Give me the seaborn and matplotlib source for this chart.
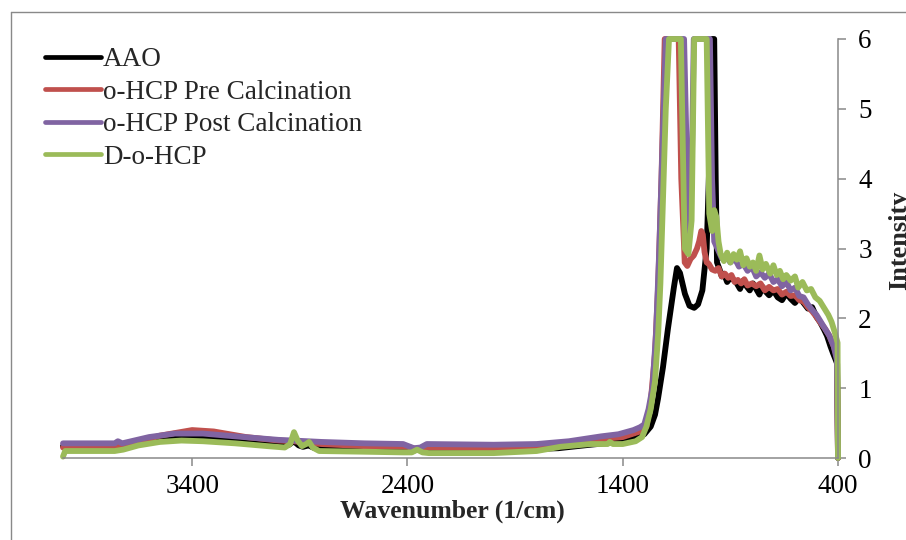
import numpy as np
import pandas as pd
import seaborn as sns
import matplotlib
matplotlib.use("Agg")
import matplotlib.pyplot as plt
from matplotlib.lines import Line2D

# ---- spectra: wavenumber (1/cm) and intensity, highest wavenumber first ----
aao_wn = [4000, 3760, 3700, 3600, 3480, 3400, 3300, 3150, 3000, 2950, 2928, 2905,
          2885, 2860, 2830, 2700, 2500, 2400, 2365, 2345, 2320, 2100, 1900, 1700,
          1550, 1450, 1400, 1340, 1300, 1270, 1250, 1236, 1213, 1190, 1162, 1148,
          1134, 1111, 1090, 1068, 1050, 1030, 1010, 995, 985, 975, 968, 962,
          950, 940, 930, 915, 900, 885, 870, 855, 840, 825, 810, 795, 780, 765,
          750, 735, 720, 700, 680, 660, 640, 620, 600, 580, 560, 540, 520, 500,
          484, 465, 451, 435, 423, 410, 404, 400]
aao_int = [0.17, 0.17, 0.20, 0.26, 0.30, 0.30, 0.28, 0.25, 0.20, 0.19, 0.24, 0.18,
           0.16, 0.18, 0.14, 0.14, 0.13, 0.13, 0.11, 0.12, 0.13, 0.12, 0.12, 0.14,
           0.19, 0.22, 0.24, 0.28, 0.34, 0.45, 0.62, 0.85, 1.30, 1.85, 2.45, 2.72,
           2.65, 2.35, 2.18, 2.15, 2.20, 2.40, 3.00, 4.50, 6.00, 6.00, 4.00, 2.80,
           2.70, 2.60, 2.64, 2.52, 2.58, 2.55, 2.50, 2.42, 2.54, 2.46, 2.40, 2.50,
           2.42, 2.34, 2.45, 2.38, 2.33, 2.40, 2.30, 2.26, 2.36, 2.28, 2.22, 2.30,
           2.22, 2.14, 2.16, 2.02, 1.95, 1.84, 1.75, 1.60, 1.50, 1.40, 1.35, 0.00]

pre_wn = [4000, 3760, 3700, 3550, 3400, 3300, 3150, 3000, 2930, 2800, 2600, 2400,
          2360, 2330, 2000, 1700, 1500, 1400, 1320, 1290, 1270, 1250, 1235, 1220,
          1205, 1140, 1128, 1112, 1100, 1085, 1070, 1055, 1045, 1035, 1028, 1020,
          1010, 1000, 985, 970, 955, 940, 925, 910, 895, 880, 865, 850, 835, 820,
          800, 780, 760, 740, 720, 700, 680, 660, 640, 620, 600, 580, 560, 540,
          520, 500, 480, 460, 440, 420, 405, 400]
pre_int = [0.15, 0.15, 0.18, 0.32, 0.40, 0.38, 0.30, 0.25, 0.24, 0.20, 0.17, 0.16,
           0.13, 0.15, 0.14, 0.18, 0.27, 0.30, 0.38, 0.45, 0.80, 1.50, 2.50, 4.00,
           6.00, 6.00, 4.00, 2.80, 2.75, 2.85, 2.90, 3.00, 3.10, 3.25, 3.20, 2.95,
           2.80, 2.78, 2.70, 2.68, 2.72, 2.60, 2.64, 2.58, 2.62, 2.52, 2.55, 2.50,
           2.56, 2.47, 2.50, 2.46, 2.50, 2.40, 2.45, 2.40, 2.42, 2.34, 2.38, 2.32,
           2.33, 2.26, 2.24, 2.16, 2.10, 2.02, 1.93, 1.85, 1.75, 1.60, 1.45, 0.00]

post_wn = [4000, 3760, 3745, 3725, 3600, 3480, 3350, 3200, 3000, 2930, 2800, 2600,
           2420, 2370, 2340, 2310, 2000, 1800, 1650, 1500, 1420, 1350, 1320, 1300,
           1280, 1262, 1245, 1230, 1215, 1200, 1115, 1100, 1090, 1080, 1070, 995,
           985, 975, 960, 940, 920, 900, 880, 860, 840, 820, 800, 780, 760, 740,
           720, 700, 680, 660, 640, 620, 600, 580, 560, 540, 520, 500, 480, 460,
           440, 420, 405, 400]
post_int = [0.21, 0.21, 0.24, 0.21, 0.30, 0.35, 0.35, 0.31, 0.26, 0.25, 0.23, 0.21,
            0.20, 0.14, 0.15, 0.20, 0.19, 0.20, 0.24, 0.31, 0.34, 0.40, 0.44, 0.48,
            0.70, 1.00, 1.80, 3.00, 4.50, 6.00, 6.00, 4.00, 3.20, 4.00, 6.00, 6.00,
            4.00, 3.10, 3.00, 2.86, 2.90, 2.80, 2.86, 2.74, 2.78, 2.68, 2.74, 2.60,
            2.66, 2.58, 2.64, 2.52, 2.56, 2.46, 2.52, 2.40, 2.44, 2.32, 2.30, 2.20,
            2.12, 2.05, 1.95, 1.85, 1.75, 1.60, 1.40, 0.00]

dohcp_wn = [4000, 3990, 3760, 3720, 3650, 3550, 3450, 3350, 3200, 3050, 2970, 2945,
            2927, 2910, 2890, 2870, 2857, 2840, 2810, 2600, 2420, 2380, 2355, 2330,
            2300, 2000, 1800, 1690, 1550, 1470, 1460, 1445, 1400, 1340, 1310, 1290,
            1270, 1250, 1235, 1225, 1215, 1200, 1185, 1130, 1112, 1095, 1080, 1068,
            1010, 998, 985, 975, 965, 955, 945, 930, 915, 900, 885, 870, 855, 840,
            825, 810, 795, 780, 765, 750, 735, 715, 700, 685, 670, 655, 640, 620,
            600, 585, 565, 545, 525, 505, 485, 465, 445, 430, 415, 402, 400]
dohcp_int = [0.02, 0.10, 0.10, 0.12, 0.18, 0.23, 0.25, 0.24, 0.21, 0.17, 0.15, 0.20,
             0.37, 0.25, 0.17, 0.20, 0.23, 0.15, 0.10, 0.09, 0.08, 0.08, 0.12, 0.08,
             0.07, 0.07, 0.10, 0.16, 0.20, 0.20, 0.23, 0.20, 0.20, 0.24, 0.30, 0.45,
             0.70, 1.10, 1.80, 2.50, 3.50, 5.00, 6.00, 6.00, 3.00, 2.92, 3.40, 6.00,
             6.00, 3.50, 3.25, 3.55, 3.45, 3.10, 2.92, 2.82, 2.94, 2.80, 2.92, 2.84,
             2.96, 2.76, 2.86, 2.74, 2.80, 2.68, 2.90, 2.70, 2.78, 2.64, 2.76, 2.62,
             2.68, 2.56, 2.62, 2.54, 2.60, 2.44, 2.52, 2.40, 2.42, 2.30, 2.25, 2.15,
             2.05, 1.95, 1.80, 1.65, 0.00]

series_names = ["AAO", "o-HCP Pre Calcination", "o-HCP Post Calcination", "D-o-HCP"]
series_colors = ["#000000", "#C0504D", "#8064A2", "#9BBB59"]
x_ticks = [3400, 2400, 1400, 400]
y_ticks = [0, 1, 2, 3, 4, 5, 6]

frames = []
for name, wn, inten in zip(series_names,
                           [aao_wn, pre_wn, post_wn, dohcp_wn],
                           [aao_int, pre_int, post_int, dohcp_int]):
    frames.append(pd.DataFrame({"Wavenumber": wn, "Intensity": inten, "Sample": name}))
df = pd.concat(frames, ignore_index=True)

sns.set_theme(style="white")
plt.rcParams["font.family"] = ["Liberation Serif", "DejaVu Serif"]

W, H = 906, 540
FS = 19.5
fig = plt.figure(figsize=(W / 100, H / 100), dpi=100)
ax = fig.add_axes([63 / W, 1 - 458 / H, (838 - 63) / W, (458 - 39) / H])

sns.lineplot(data=df, x="Wavenumber", y="Intensity", hue="Sample",
             hue_order=series_names, palette=series_colors, sort=False,
             estimator=None, linewidth=4.2, ax=ax, legend=True)
for ln in ax.get_lines():
    ln.set_clip_on(False)
    ln.set_solid_joinstyle("round")
    ln.set_solid_capstyle("round")

ax.set_xlim(4000, 400)
ax.set_ylim(0, 6)
ax.set_xticks(x_ticks)
ax.set_yticks(y_ticks)
ax.set_xticklabels([str(v) for v in x_ticks])
ax.set_yticklabels([str(v) for v in y_ticks])
ax.set_xlabel("")
ax.set_ylabel("")

spine_col = "#898989"
for side in ["left", "top"]:
    ax.spines[side].set_visible(False)
for side in ["bottom", "right"]:
    ax.spines[side].set_color(spine_col)
    ax.spines[side].set_linewidth(1.1)
ax.yaxis.tick_right()
ax.tick_params(axis="x", direction="out", length=5.5, width=1.1, color=spine_col,
               labelsize=FS, pad=6, bottom=True, top=False, labelcolor="black")
ax.tick_params(axis="y", direction="out", length=5.5, width=1.1, color=spine_col,
               labelsize=FS, pad=9, right=True, left=False, labelright=True,
               labelleft=False, labelcolor="black")

# legend without frame in the upper-left corner
old = ax.get_legend()
handles = old.legend_handles
labels = [t.get_text() for t in old.texts]
old.remove()
for h in handles:
    h.set_linewidth(3.4)
ax.legend(handles, labels, loc="upper left", bbox_to_anchor=(45 / W, 1 - 47 / H),
          bbox_transform=fig.transFigure, frameon=False, fontsize=FS,
          handlelength=2.05, handletextpad=0.1, labelspacing=0.28,
          borderpad=0, borderaxespad=0)

fig.text(452 / W, 1 - 518 / H, "Wavenumber (1/cm)", ha="center", va="baseline",
         fontsize=18.5, fontweight="bold")
fig.text(900 / W, 1 - 240 / H, "Intensity", ha="center", va="center",
         rotation=90, fontsize=19, fontweight="bold")

# chart-area outline
fig.add_artist(Line2D([10.5 / W, 10.5 / W], [0, 1 - 11.5 / H], transform=fig.transFigure,
                      color=spine_col, linewidth=1.0))
fig.add_artist(Line2D([10.5 / W, 1.0], [1 - 11.5 / H, 1 - 11.5 / H],
                      transform=fig.transFigure, color=spine_col, linewidth=1.0))

fig.savefig("out.png", dpi=100, facecolor="white")
